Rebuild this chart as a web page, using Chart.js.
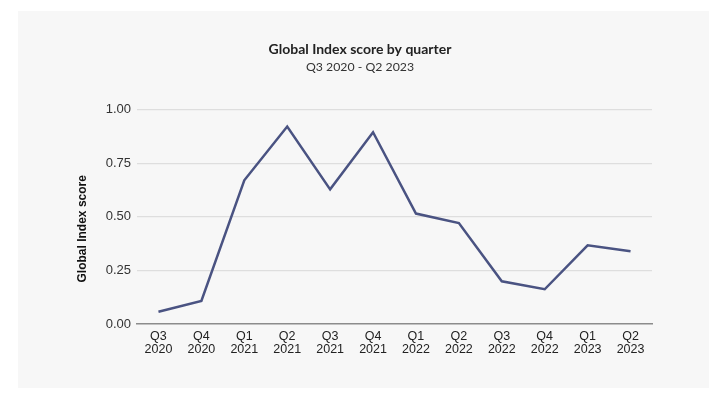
<!DOCTYPE html>
<html>
<head>
<meta charset="utf-8">
<script src="https://cdn.jsdelivr.net/npm/chart.js@4/dist/chart.umd.min.js"></script>
<style>
html,body{margin:0;padding:0;background:#ffffff;}
#wrap{position:relative;width:720px;height:393px;}
</style>
</head>
<body>
<div id="wrap"><canvas id="c" width="720" height="393"></canvas></div>
<script>
const categories = [["Q3","2020"],["Q4","2020"],["Q1","2021"],["Q2","2021"],["Q3","2021"],["Q4","2021"],["Q1","2022"],["Q2","2022"],["Q3","2022"],["Q4","2022"],["Q1","2023"],["Q2","2023"]];
const scores = [0.057, 0.108, 0.670, 0.921, 0.628, 0.894, 0.515, 0.471, 0.199, 0.162, 0.367, 0.339];
const yTicks = [0, 0.25, 0.5, 0.75, 1];
const titleText = "Global Index score by quarter";
const subtitleText = "Q3 2020 - Q2 2023";
const yAxisTitle = "Global Index score";

const panelBg = {
  id: 'panelBg',
  beforeDraw(chart) {
    const ctx = chart.ctx;
    ctx.save();
    ctx.fillStyle = '#ffffff';
    ctx.fillRect(0, 0, chart.width, chart.height);
    ctx.fillStyle = '#f7f7f7';
    ctx.fillRect(18, 11, 691, 377);
    ctx.restore();
  }
};

new Chart(document.getElementById('c'), {
  type: 'line',
  data: {
    labels: categories,
    datasets: [{
      data: scores,
      borderColor: '#4a5382',
      borderWidth: 2.5,
      pointRadius: 0,
      tension: 0,
      fill: false
    }]
  },
  options: {
    responsive: false,
    animation: false,
    layout: { padding: { left: 0, right: 0, top: 0, bottom: 0 } },
    plugins: {
      legend: { display: false },
      tooltip: { enabled: false },
      title: {
        display: true,
        text: titleText,
        color: '#222222',
        font: { family: 'Lato', size: 14, weight: 'bold', lineHeight: 1.2 },
        padding: { top: 41, bottom: 2 }
      },
      subtitle: {
        display: true,
        text: subtitleText,
        color: '#333333',
        font: { family: 'Lato', size: 12.3, weight: 'normal', lineHeight: 1.2 },
        padding: { top: 0, bottom: 35 }
      }
    },
    scales: {
      x: {
        offset: true,
        grid: { display: false, drawTicks: false },
        border: { display: true, color: '#8c8c8c', width: 1.5 },
        ticks: {
          color: '#222222',
          font: { family: 'Liberation Sans', size: 12.5, lineHeight: 1.05 },
          padding: 6,
          maxRotation: 0,
          autoSkip: false
        },
        afterFit(s) { s.height = 69; }
      },
      y: {
        min: 0,
        max: 1,
        afterBuildTicks(s) { s.ticks = yTicks.map(v => ({ value: v })); },
        grid: {
          drawTicks: false,
          color: ctx => ctx.tick && ctx.tick.value === 0 ? 'rgba(0,0,0,0)' : '#dedede',
          lineWidth: 1.2
        },
        border: { display: false },
        ticks: {
          color: '#333333',
          font: { family: 'Liberation Sans', size: 13 },
          padding: 6,
          callback: v => Number(v).toFixed(2)
        },
        title: {
          display: true,
          text: yAxisTitle,
          color: '#111111',
          font: { family: 'Liberation Sans', size: 12, weight: 'bold' },
          padding: { top: 75, bottom: 14 }
        },
        afterFit(s) { s.width = 137; },
        afterUpdate(s) {
          if (!s._titleShifted) {
            const orig = s.drawTitle;
            s.drawTitle = function () {
              const ctx = this.ctx;
              ctx.save();
              ctx.translate(0, 12);
              orig.apply(this, arguments);
              ctx.restore();
            };
            s._titleShifted = true;
          }
        }
      },
      yRight: {
        position: 'right',
        display: true,
        min: 0,
        max: 1,
        grid: { display: false, drawTicks: false },
        border: { display: false },
        ticks: { display: false },
        afterFit(s) { s.width = 68; }
      }
    }
  },
  plugins: [panelBg]
});
</script>
</body>
</html>
